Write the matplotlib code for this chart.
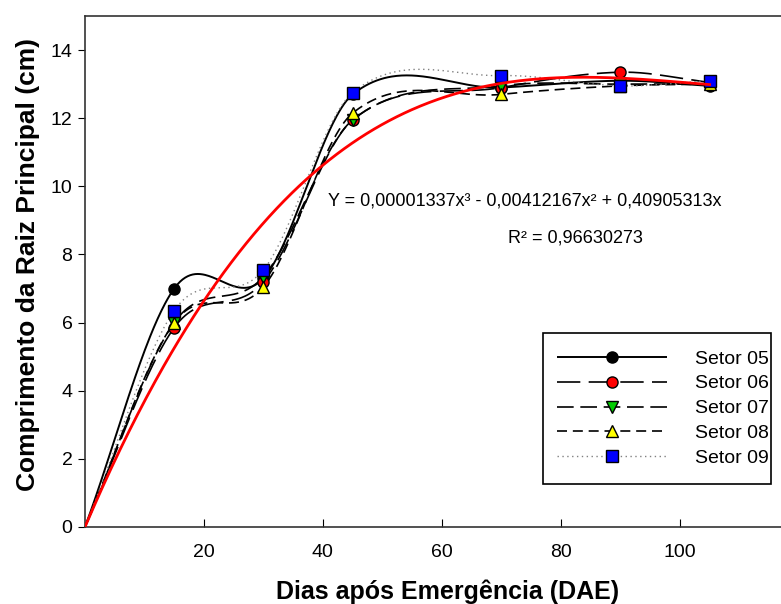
import numpy as np
import matplotlib
matplotlib.use("Agg")
import matplotlib.pyplot as plt
from matplotlib.patches import Rectangle

plt.rcParams['font.family'] = ['Liberation Sans', 'DejaVu Sans']

# dias após emergência
dias = [0, 15, 30, 45, 70, 90, 105]

setor_05 = [0, 7.00, 7.30, 12.70, 12.90, 13.10, 12.95]
setor_06 = [0, 5.85, 7.20, 11.95, 12.90, 13.35, 13.05]
setor_07 = [0, 6.00, 7.35, 11.95, 12.95, 13.00, 13.00]
setor_08 = [0, 6.00, 7.05, 12.15, 12.70, 12.95, 13.00]
setor_09 = [0, 6.35, 7.55, 12.75, 13.25, 12.95, 13.10]

# Y = a x³ + b x² + c x
coef_a = 0.00001337
coef_b = -0.00412167
coef_c = 0.40905313
r2_text = "R² = 0,96630273"
eq_text = "Y = 0,00001337x³ - 0,00412167x² + 0,40905313x"


def spline_curve(x, y, xs):
    # hermite cubico com tangentes de diferenca central
    x = np.asarray(x, float)
    y = np.asarray(y, float)
    n = len(x)
    m = np.zeros(n)
    m[0] = (y[1] - y[0]) / (x[1] - x[0])
    m[-1] = (y[-1] - y[-2]) / (x[-1] - x[-2])
    m[1:-1] = (y[2:] - y[:-2]) / (x[2:] - x[:-2])
    idx = np.clip(np.searchsorted(x, xs) - 1, 0, n - 2)
    h = x[idx + 1] - x[idx]
    t = (xs - x[idx]) / h
    h00 = 2 * t**3 - 3 * t**2 + 1
    h10 = t**3 - 2 * t**2 + t
    h01 = -2 * t**3 + 3 * t**2
    h11 = t**3 - t**2
    return h00 * y[idx] + h10 * h * m[idx] + h01 * y[idx + 1] + h11 * h * m[idx + 1]


fig = plt.figure(figsize=(7.81, 6.04), dpi=100)
ax = fig.add_axes([0.1088, 0.1275, 0.8912, 0.846])

xs = np.linspace(0, 105, 500)

series = [
    ("Setor 05", setor_05, 'o', 'black', 'black', (0, ()), 1.4),
    ("Setor 06", setor_06, 'o', 'red', 'black', (0, (14, 5)), 1.2),
    ("Setor 07", setor_07, 'v', '#00cc00', 'black', (0, (10, 4)), 1.2),
    ("Setor 08", setor_08, '^', 'yellow', 'black', (0, (6, 3.5)), 1.2),
    ("Setor 09", setor_09, 's', 'blue', 'gray', (0, (1, 2.5)), 1.0),
]

handles = []
for nome, vals, mk, fc, lc, ls, lw in series:
    ax.plot(xs, spline_curve(dias, vals, xs), color=lc, linestyle=ls, lw=lw, zorder=2)
    ax.plot(dias[1:], vals[1:], linestyle='none', marker=mk, ms=8,
            mfc=fc, mec='black', mew=1, zorder=3)
    h, = ax.plot([], [], color=lc, linestyle=ls, lw=lw, marker=mk, ms=8,
                 mfc=fc, mec='black', mew=1)
    handles.append((h, nome))

# ajuste polinomial
yf = coef_a * xs**3 + coef_b * xs**2 + coef_c * xs
ax.plot(xs, yf, color='red', lw=2, zorder=4)

ax.text(74.0, 9.57, eq_text, ha='center', va='center', fontsize=13)
ax.text(82.4, 8.47, r2_text, ha='center', va='center', fontsize=13)

ax.set_xlim(0, 117)
ax.set_ylim(0, 15)
ax.set_xticks([20, 40, 60, 80, 100])
ax.set_yticks(range(0, 15, 2))
ax.tick_params(axis='x', direction='in', length=6, labelsize=14, pad=12)
ax.tick_params(axis='y', direction='out', length=5, labelsize=14, pad=4)
ax.spines['right'].set_visible(False)
for s in ['left', 'bottom', 'top']:
    ax.spines[s].set_linewidth(1.2)
    ax.spines[s].set_color('#333333')

ax.set_xlabel("Dias após Emergência (DAE)", fontsize=18, fontweight='bold')
ax.set_ylabel("Comprimento da Raiz Principal (cm)", fontsize=19, fontweight='bold')
ax.xaxis.set_label_coords(0.5216, -0.103)
ax.yaxis.set_label_coords(-0.065, 0.513)

# legenda sem moldura + caixa desenhada à parte
leg = ax.legend([h for h, _ in handles], [n for _, n in handles],
                loc='upper left', bbox_to_anchor=(0.678, 0.3464), borderaxespad=0,
                fontsize=14, handlelength=5.65, handletextpad=1.44,
                labelspacing=0.375, borderpad=0, frameon=False)
leg.set_zorder(6)
caixa = Rectangle((0.658, 0.0841), 0.3276, 0.2955, transform=ax.transAxes,
                  facecolor='white', edgecolor='black', lw=1.2, zorder=5)
ax.add_patch(caixa)

fig.savefig("out.png", dpi=100)
